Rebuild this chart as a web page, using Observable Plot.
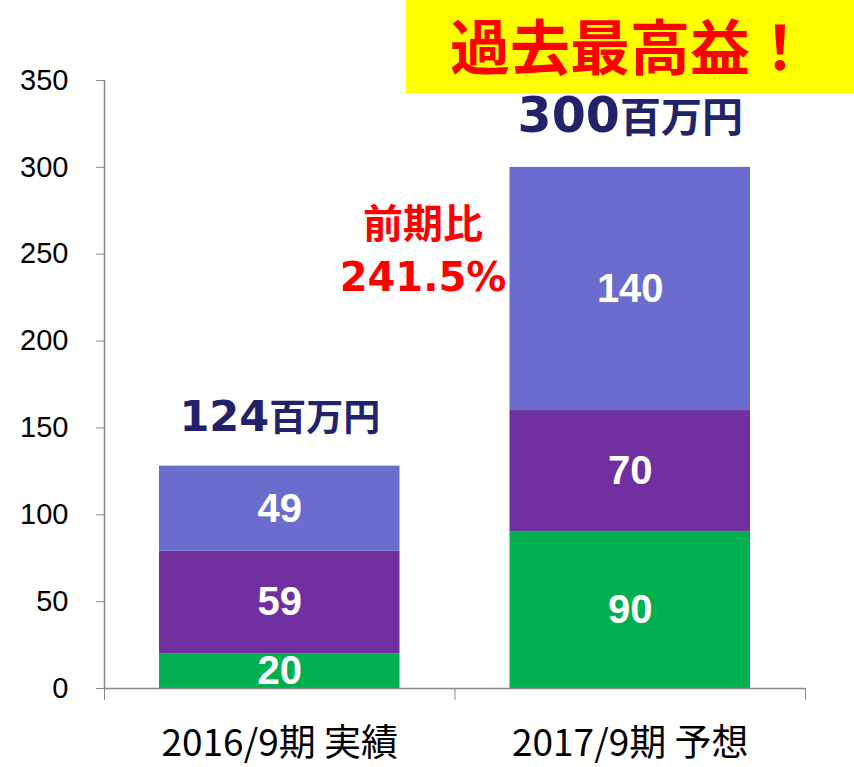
<!DOCTYPE html>
<html>
<head>
<meta charset="utf-8">
<script src="https://cdn.jsdelivr.net/npm/d3@7"></script>
<script src="https://cdn.jsdelivr.net/npm/@observablehq/plot@0.6"></script>
<style>
  html, body { margin: 0; padding: 0; background: #fff; }
  #wrap { position: relative; width: 854px; height: 767px; overflow: hidden; }
  #headline {
    position: absolute; left: 406px; top: 0; width: 448px; height: 93px;
    background: #ffff00; color: #ff0000;
    font-family: "Noto Sans CJK JP", sans-serif; font-weight: 700; font-size: 60px;
    line-height: 88px; text-align: center; white-space: nowrap;
  }
</style>
</head>
<body>
<div id="wrap"><div id="headline">過去最高益！</div></div>
<script>
const periods = ["2016/9期 実績", "2017/9期 予想"];
const seriesNames = ["series1", "series2", "series3"];
const series1Vals = [20, 90];
const series2Vals = [59, 70];
const series3Vals = [49, 140];
const totalLabels = ["124", "300"];
const growthLabel = "前期比\n241.5%";
const yTicks = [0, 50, 100, 150, 200, 250, 300, 350];
const colors = ["#00b050", "#7030a0", "#6c6ccf"];

const seriesVals = [series1Vals, series2Vals, series3Vals];
const rows = [];
periods.forEach((p, i) => {
  let acc = 0;
  seriesNames.forEach((s, k) => {
    const v = seriesVals[k][i];
    rows.push({i, period: p, series: s, value: v, y1: acc, y2: acc + v});
    acc += v;
  });
});
const totals = periods.map((p, i) => ({
  i, label: totalLabels[i],
  top: series1Vals[i] + series2Vals[i] + series3Vals[i]
}));

const axisGray = "#898989";
const chart = Plot.plot({
  width: 854,
  height: 767,
  marginLeft: 104,
  marginRight: 49,
  marginTop: 80,
  marginBottom: 79,
  x: {domain: [0, 2], axis: null},
  y: {domain: [0, 350], axis: null},
  color: {type: "ordinal", domain: seriesNames, range: colors},
  marks: [
    Plot.rect(rows, {x1: d => d.i, x2: d => d.i + 1, y1: "y1", y2: "y2", fill: "series", insetLeft: 55, insetRight: 55}),
    Plot.text(rows, {x: d => d.i + 0.5, y: d => (d.y1 + d.y2) / 2, text: d => String(d.value),
      fill: "white", fontSize: 40, fontWeight: "bold", fontFamily: "Liberation Sans, Arial, sans-serif"}),
    Plot.ruleX([0], {y1: 0, y2: 350, stroke: axisGray, strokeWidth: 1.5}),
    Plot.ruleY([0], {stroke: axisGray, strokeWidth: 1.5}),
    Plot.axisY({ticks: yTicks, tickSize: 8, tickPadding: 28, stroke: axisGray, fill: "#000",
      fontSize: 29, fontFamily: "Liberation Sans, Arial, sans-serif", tickFormat: d => String(d)}),
    Plot.axisX({ticks: [0, 1, 2], tickSize: 12, stroke: axisGray, tickFormat: () => ""}),
    Plot.text(periods, {x: (d, i) => i + 0.5, y: () => 0, text: d => d, dy: 56,
      fontSize: 37, fill: "#000", fontFamily: "Noto Sans CJK JP, sans-serif"}),
    Plot.text(totals, {x: d => d.i + 0.5, y: "top", text: d => d.label + "百万円", dy: -35,
      lineAnchor: "bottom", fill: "#22226b", fontWeight: "bold", fontSize: 44,
      fontFamily: "DejaVu Sans, Noto Sans CJK JP, sans-serif"}),
    Plot.text([growthLabel], {x: () => 1, y: () => 229, text: d => d, dx: -32, lineAnchor: "bottom",
      lineHeight: 1.325, fill: "#ff0000", fontWeight: "bold", fontSize: 40,
      fontFamily: "DejaVu Sans, Noto Sans CJK JP, sans-serif"})
  ]
});

// Mixed font sizes inside the total labels (number larger than unit)
const sizes = [[43, 37], [49, 41]];
const ns = "http://www.w3.org/2000/svg";
let idx = 0;
chart.querySelectorAll("text").forEach(t => {
  const s = t.textContent;
  if (s.endsWith("百万円") && t.children.length === 0) {
    const num = s.replace("百万円", "");
    const sz = sizes[Math.min(idx, sizes.length - 1)];
    idx++;
    t.textContent = "";
    const a = document.createElementNS(ns, "tspan");
    a.setAttribute("font-size", sz[0]);
    a.setAttribute("font-family", "DejaVu Sans");
    a.textContent = num;
    const b = document.createElementNS(ns, "tspan");
    b.setAttribute("font-size", sz[1]);
    b.setAttribute("font-family", "Noto Sans CJK JP");
    b.textContent = "百万円";
    t.appendChild(a);
    t.appendChild(b);
  }
});

document.getElementById("wrap").insertBefore(chart, document.getElementById("headline"));
chart.style.position = "absolute";
chart.style.left = "0";
chart.style.top = "0";
</script>
</body>
</html>
